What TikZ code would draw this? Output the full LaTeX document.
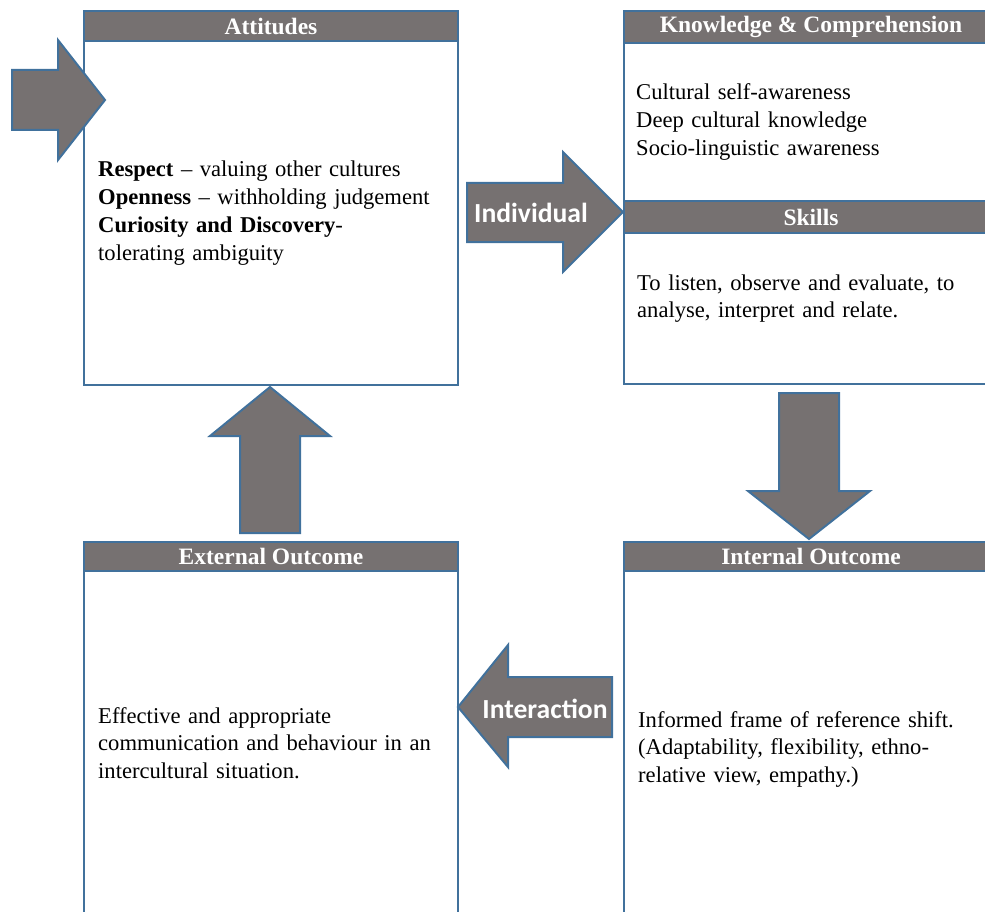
\documentclass[tikz,border=0pt]{standalone}
\usepackage{fontspec}
\setmainfont{Liberation Serif}
\newfontfamily\calib{Carlito}
\definecolor{gfill}{HTML}{767171}
\definecolor{bblue}{HTML}{41719C}
\begin{document}
\begin{tikzpicture}[x=1pt,y=-1pt,
  box/.style={draw=bblue, line width=2pt, fill=white, rectangle, anchor=north west, minimum width=374pt, inner sep=0pt},
  hdr/.style={draw=bblue, line width=2pt, fill=gfill, rectangle, anchor=north west, minimum width=374pt, inner sep=0pt, text=white, font=\fontsize{23.5}{26}\selectfont\bfseries},
  blockarrow/.style={draw=bblue, line width=2pt, fill=gfill, line join=miter},
  body/.style={anchor=base west, inner sep=0pt, align=left, text width=345pt, font=\fontsize{22.6}{27.7}\selectfont},
  atext/.style={text=white, inner sep=0pt, font=\fontsize{27.6}{30}\selectfont\calib\bfseries}]
\useasboundingbox (0,0) rectangle (985,912);
\clip (0,0) rectangle (985,912);
% boxes
\node[box, minimum height=374pt] (att) at (83,10) {};
\node[box, minimum height=373pt] (kno) at (623,10) {};
\node[box, minimum height=400pt] (ext) at (83,541) {};
\node[box, minimum height=400pt] (int) at (623,541) {};
% headers
\node[hdr, minimum height=30pt] (atth) at (83,10) {Attitudes};
\node[hdr, minimum height=32pt] (knoh) at (623,10) {Knowledge \& Comprehension};
\node[hdr, minimum height=32pt] (skih) at (623,200) {Skills};
\node[hdr, minimum height=29pt] (exth) at (83,541) {External Outcome};
\node[hdr, minimum height=29pt] (inth) at (623,541) {Internal Outcome};
% body texts
\node[body] (attt) at (98,177) {\textbf{Respect} -- valuing other cultures\\
\textbf{Openness} -- withholding judgement\\
\textbf{Curiosity and Discovery}-\\
tolerating ambiguity};
\node[body] (knot) at (636,100) {Cultural self-awareness\\
Deep cultural knowledge\\
Socio-linguistic awareness};
\node[body] (skit) at (637,290) {To listen, observe and evaluate, to\\
analyse, interpret and relate.};
\node[body] (extt) at (98,723) {Effective and appropriate\\
communication and behaviour in an\\
intercultural situation.};
\node[body] (intt) at (638,727) {Informed frame of reference shift.\\
(Adaptability, flexibility, ethno-\\
relative view, empathy.)};
% block arrows
\draw[blockarrow] (12,70) -- (58,70) -- (58,40) -- (105,100) -- (58,160) -- (58,130) -- (12,130) -- cycle;
\draw[blockarrow] (467,183) -- (563,183) -- (563,152) -- (623,212) -- (563,272) -- (563,242) -- (467,242) -- cycle;
\draw[blockarrow] (779,393) -- (839,393) -- (839,491) -- (870,491) -- (809,539) -- (748,491) -- (779,491) -- cycle;
\draw[blockarrow] (612,677) -- (508,677) -- (508,645) -- (458,707) -- (508,767) -- (508,737) -- (612,737) -- cycle;
\draw[blockarrow] (240,533) -- (240,436) -- (210,436) -- (270,387) -- (330,436) -- (300,436) -- (300,533) -- cycle;
\node[atext] (ind) at (531,213) {Individual};
\node[atext] (inter) at (545,709) {Interaction};
\end{tikzpicture}
\end{document}
